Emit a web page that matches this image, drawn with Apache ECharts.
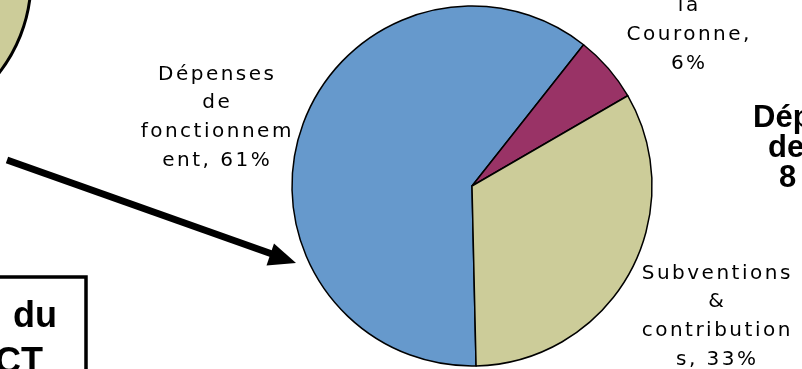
<!DOCTYPE html>
<html>
<head>
<meta charset="utf-8">
<script src="https://cdn.jsdelivr.net/npm/echarts@6/dist/echarts.min.js"></script>
<style>html,body{margin:0;padding:0;background:#fff}#c{width:802px;height:369px}</style>
</head>
<body>
<div id="c"></div>
<script>
// ---- data ----
var categories = ['Dépenses de fonctionnement', 'Dépenses relatives à la Couronne', 'Subventions & contributions'];
var values = [61, 6, 33];
var colors = ['#6699CC', '#993366', '#CCCC99'];
var labelWraps = [
  'Dépenses\nde\nfonctionnem\nent, {c}%',
  'Dépenses\nrelatives à\nla\nCouronne,\n{c}%',
  'Subventions\n&\ncontribution\ns, {c}%'
];
var sideTitle = ['Dépenses', 'de', '8'];
var boxTitle = ['du', 'CT'];

// letter spacing for the regular data labels (canvas native)
(function () {
  var orig = CanvasRenderingContext2D.prototype.fillText;
  CanvasRenderingContext2D.prototype.fillText = function (t, x, y, m) {
    if (/DejaVu/.test(this.font) && !/bold/.test(this.font)) {
      var prev = this.letterSpacing;
      this.letterSpacing = '2.5px';
      var dx = this.textAlign === 'center' ? 1.25 : 0;
      if (m === undefined) orig.call(this, t, x + dx, y); else orig.call(this, t, x + dx, y, m);
      this.letterSpacing = prev;
    } else {
      if (m === undefined) orig.call(this, t, x, y); else orig.call(this, t, x, y, m);
    }
  };
})();

var labelPos = [
  { x: 216, y: 60, verticalAlign: 'top' },
  { x: 688, y: 78, verticalAlign: 'bottom' },
  { x: 716, y: 259, verticalAlign: 'top' }
];

var chart = echarts.init(document.getElementById('c'), null, { renderer: 'canvas' });
chart.setOption({
  animation: false,
  backgroundColor: '#ffffff',
  series: [{
    type: 'pie',
    center: [472, 186],
    radius: 180,
    startAngle: 271.3,
    clockwise: true,
    silent: true,
    itemStyle: { borderColor: '#000', borderWidth: 1.5 },
    label: {
      show: true,
      position: 'outside',
      fontFamily: 'DejaVu Sans',
      fontSize: 20,
      color: '#000',
      lineHeight: 28.8,
      align: 'center',
      overflow: 'none'
    },
    labelLine: { show: false },
    labelLayout: function (p) {
      var lp = labelPos[p.dataIndex];
      return { x: lp.x, y: lp.y, align: 'center', verticalAlign: lp.verticalAlign, hideOverlap: false, moveOverlap: null };
    },
    data: categories.map(function (n, i) {
      return {
        name: n, value: values[i],
        itemStyle: { color: colors[i] },
        label: { formatter: labelWraps[i] }
      };
    })
  }],
  graphic: [
    { type: 'circle', shape: { cx: -120, cy: -20, r: 151 }, style: { fill: '#CCCC99', stroke: '#000', lineWidth: 3 } },
    { type: 'line', shape: { x1: 7, y1: 160, x2: 272, y2: 254 }, style: { stroke: '#000', lineWidth: 7 } },
    { type: 'polygon', shape: { points: [[296, 263], [274, 243.5], [266.5, 265.5]] }, style: { fill: '#000' } },
    { type: 'rect', shape: { x: -10, y: 277, width: 96, height: 130 }, style: { fill: 'none', stroke: '#000', lineWidth: 3.5 } },
    { type: 'text', x: 13, y: 317.5, style: { text: boxTitle[0], font: 'bold 36px "Liberation Sans"', fill: '#000', align: 'left', verticalAlign: 'middle' } },
    { type: 'text', x: 43, y: 363, style: { text: boxTitle[1], font: 'bold 36px "Liberation Sans"', fill: '#000', align: 'right', verticalAlign: 'middle' } },
    { type: 'text', x: 753, y: 118.5, style: { text: sideTitle[0], font: 'bold 31px "Liberation Sans"', fill: '#000', align: 'left', verticalAlign: 'middle' } },
    { type: 'text', x: 768, y: 148.5, style: { text: sideTitle[1], font: 'bold 31px "Liberation Sans"', fill: '#000', align: 'left', verticalAlign: 'middle' } },
    { type: 'text', x: 779, y: 178.5, style: { text: sideTitle[2], font: 'bold 31px "Liberation Sans"', fill: '#000', align: 'left', verticalAlign: 'middle' } }
  ]
});
</script>
</body>
</html>
